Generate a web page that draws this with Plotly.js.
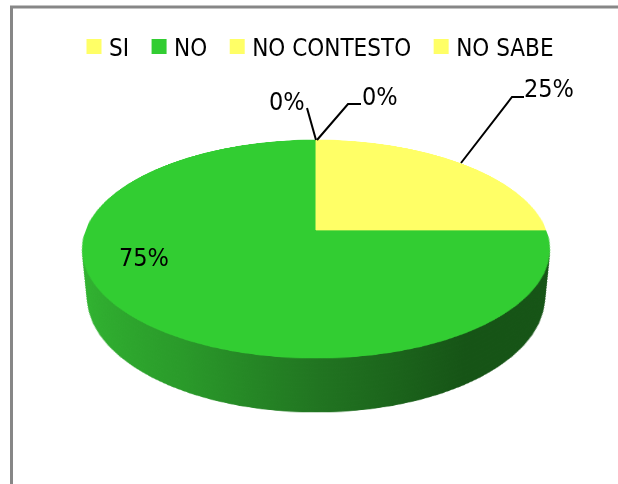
<!DOCTYPE html>
<html><head><meta charset="utf-8">
<script src="https://cdn.plot.ly/plotly-3.0.1.min.js"></script>
<style>
html,body{margin:0;padding:0;background:#fff;overflow:hidden;width:618px;height:484px;}
#wrap{position:relative;width:618px;height:484px;}
.layer{position:absolute;left:86px;top:0px;width:460px;height:460px;transform-origin:50% 50%;}
#overlay{position:absolute;left:0;top:0;width:618px;height:484px;}
</style></head><body>
<div id="wrap"></div>
<script>
// ---- data ----
const categories = ['SI', 'NO', 'NO CONTESTO', 'NO SABE'];
const values = [0, 75, 0, 25];
const topColors = ['#FFFF66', '#32CD32', '#FFFF66', '#FFFF66'];
const sideColors = ['#B3B347', '#1F7A1F', '#B3B347', '#B3B347'];

// ---- geometry / style (not data) ----
const W = 618, H = 484;
const P = 1172, TILT = 62.6, DEPTH = 54.6, NSIDE = 11;
const FONT = "'Liberation Sans Narrow', 'Arial Narrow', 'DejaVu Sans Condensed', 'Liberation Sans', sans-serif";
const labelPos = [[287, 101], [144, 257], [380, 97], [549, 88]];
const leaderPaths = [
  [[307, 108], [316, 140]],
  [[317, 140], [348, 104], [361, 104]],
  [[461, 163], [512, 97], [524, 97]]
];
const px = x => x / W, py = y => 1 - y / H;

const wrap = document.getElementById('wrap');
const cfg = {staticPlot: true, displayModeBar: false};

function pieLayer(z, colors, idx) {
  const d = document.createElement('div');
  d.className = 'layer';
  d.style.transform = 'perspective(' + P + 'px) rotateX(' + TILT + 'deg) translateZ(' + z + 'px)';
  wrap.appendChild(d);
  return Plotly.newPlot(d, [{
    type: 'pie', labels: categories, values: values, sort: false,
    direction: 'counterclockwise', rotation: 0, textinfo: 'none', hoverinfo: 'none',
    marker: {colors: colors, line: {width: 1, color: colors}}, showlegend: false
  }], {
    width: 460, height: 460, margin: {l: 0, r: 0, t: 0, b: 0},
    paper_bgcolor: 'rgba(0,0,0,0)', plot_bgcolor: 'rgba(0,0,0,0)', showlegend: false
  }, cfg).then(() => {
    if (idx < 0) return;
    const svg = d.querySelector('svg.main-svg');
    const ns = 'http://www.w3.org/2000/svg';
    const defs = document.createElementNS(ns, 'defs');
    const g = document.createElementNS(ns, 'linearGradient');
    const id = 'sideGrad' + idx;
    g.setAttribute('id', id);
    g.setAttribute('gradientUnits', 'userSpaceOnUse');
    g.setAttribute('x1', '0'); g.setAttribute('x2', '460');
    g.setAttribute('y1', '0'); g.setAttribute('y2', '0');
    [[0, '#31B431'], [0.25, '#2A9A2A'], [0.5, '#217521'], [0.78, '#165416'], [1, '#165416']].forEach(s => {
      const st = document.createElementNS(ns, 'stop');
      st.setAttribute('offset', s[0]); st.setAttribute('stop-color', s[1]);
      g.appendChild(st);
    });
    defs.appendChild(g); svg.insertBefore(defs, svg.firstChild);
    d.querySelectorAll('path.surface').forEach(p => {
      if ((p.style.fill || '').replace(/\s/g, '') === 'rgb(31,122,31)') {
        p.style.fill = 'url(#' + id + ')';
        p.style.stroke = 'url(#' + id + ')';
      }
    });
  });
}

for (let k = NSIDE; k >= 1; k--) pieLayer(-DEPTH * k / NSIDE, sideColors, k);
pieLayer(0, topColors, -1);

// overlay: legend, labels, leader lines, frame
const ov = document.createElement('div');
ov.id = 'overlay';
wrap.appendChild(ov);

const annotations = categories.map((c, i) => ({
  xref: 'paper', yref: 'paper', x: px(labelPos[i][0]), y: py(labelPos[i][1]),
  text: values[i] + '%', showarrow: false, xanchor: 'center', yanchor: 'middle',
  font: {family: FONT, size: 25, color: '#000'}
}));
const shapes = leaderPaths.map(pts => ({
  type: 'path', xref: 'paper', yref: 'paper',
  path: pts.map((p, j) => (j ? 'L' : 'M') + px(p[0]) + ',' + py(p[1])).join(' '),
  line: {color: '#000', width: 2}
}));
shapes.push({type: 'rect', xref: 'paper', yref: 'paper',
  x0: px(11.5), x1: px(640), y0: py(500), y1: py(7), line: {color: '#878787', width: 3}});

Plotly.newPlot(ov, [{
  type: 'pie', labels: categories, values: values, sort: false,
  direction: 'counterclockwise', textinfo: 'none', hoverinfo: 'none',
  marker: {colors: topColors, line: {width: 0}},
  domain: {x: [0.3236, 0.32365], y: [0.38, 0.38006]}
}], {
  width: W, height: H, margin: {l: 0, r: 0, t: 0, b: 0},
  paper_bgcolor: 'rgba(0,0,0,0)', plot_bgcolor: 'rgba(0,0,0,0)',
  showlegend: true,
  legend: {orientation: 'h', x: px(74), xanchor: 'left', y: py(47), yanchor: 'middle',
    font: {family: FONT, size: 24, color: '#000'}, bgcolor: 'rgba(0,0,0,0)', borderwidth: 0},
  annotations: annotations, shapes: shapes
}, cfg).then(() => {
  ov.querySelectorAll('.legend .legendpoints path').forEach(p => {
    p.setAttribute('d', 'M7.5,7.5H-7.5V-7.5H7.5Z');
  });
  ov.querySelectorAll('.legend .legendtext').forEach(t => {
    t.setAttribute('x', 35);
  });
});
</script>
</body></html>
